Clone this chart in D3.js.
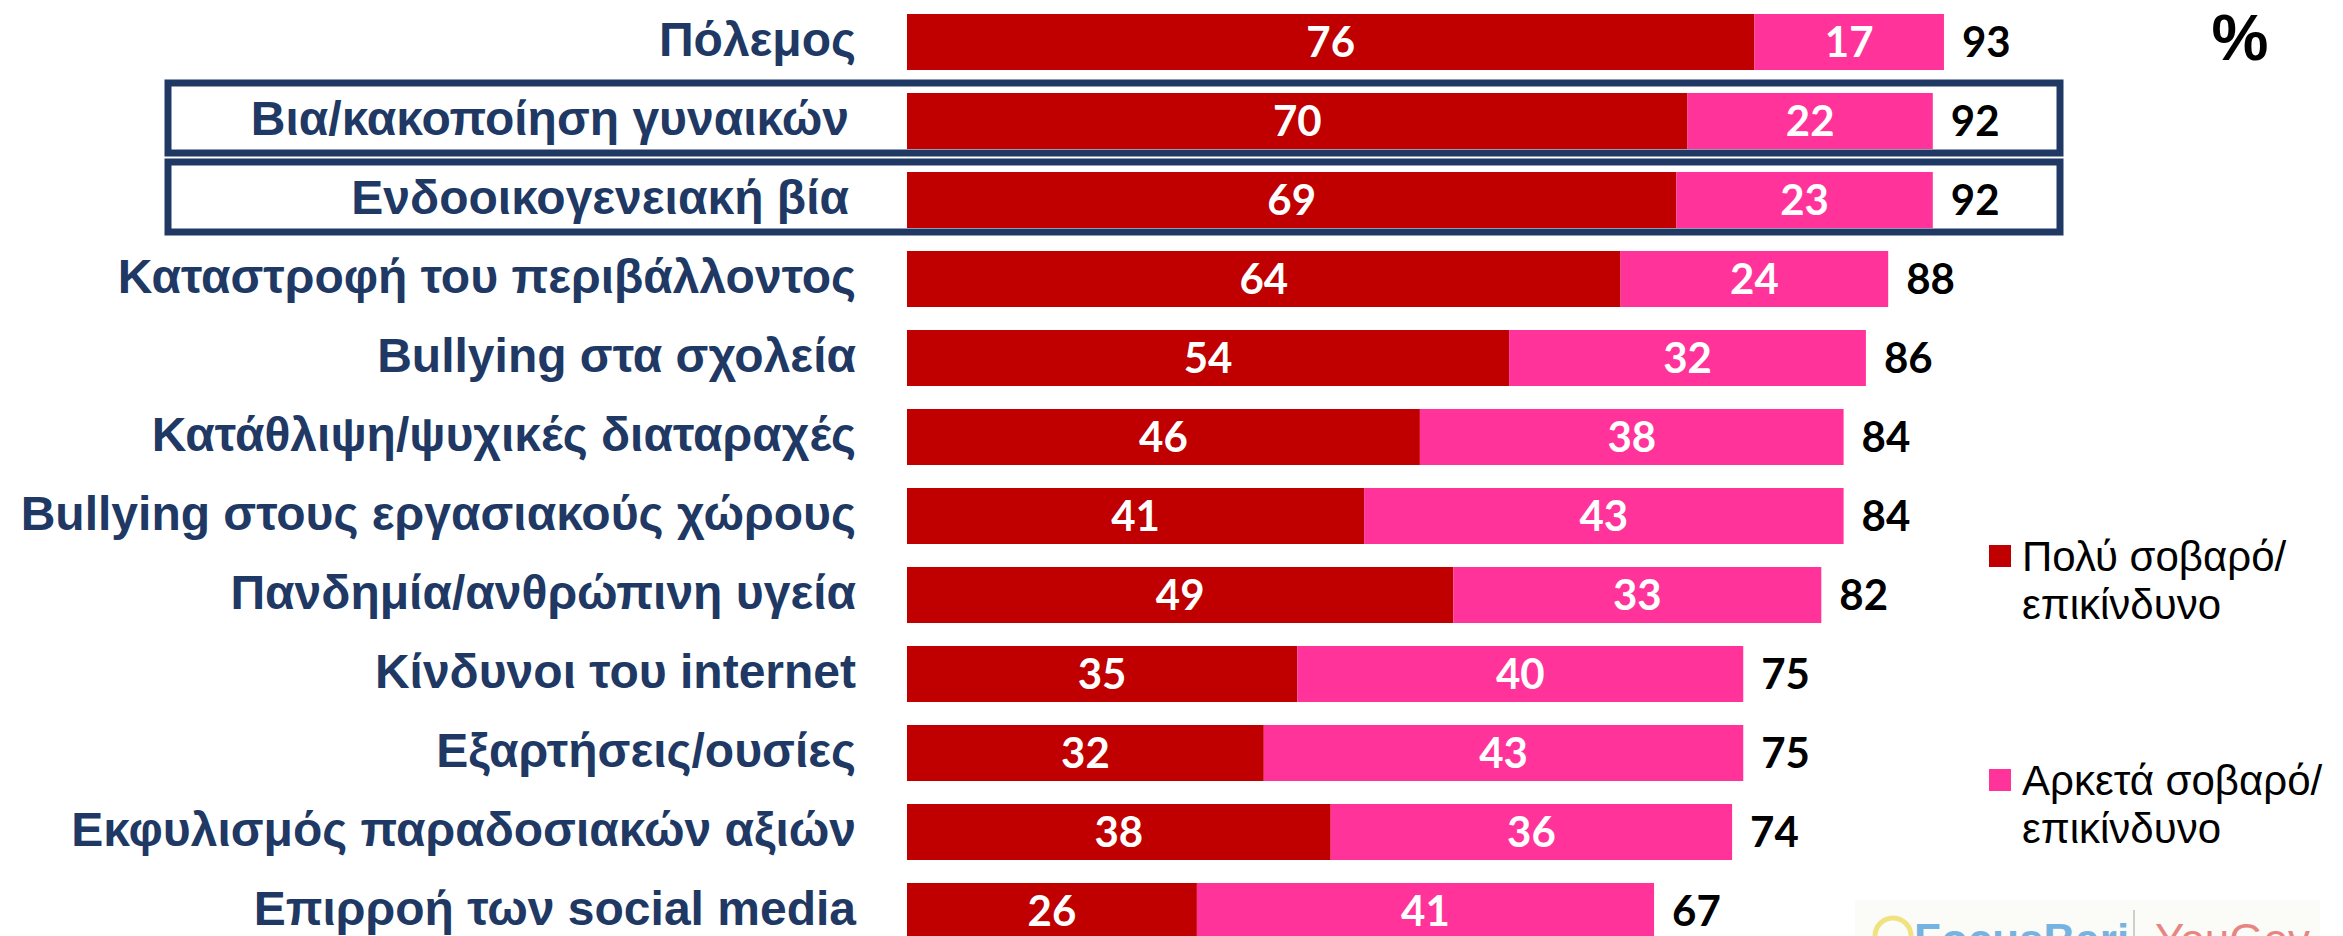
<!DOCTYPE html>
<html>
<head>
<meta charset="utf-8">
<script src="https://cdn.jsdelivr.net/npm/d3@7"></script>
<style>
  html, body { margin: 0; padding: 0; background: #fff; overflow: hidden; }
  svg { display: block; }
</style>
</head>
<body>
<svg id="chart" width="2343" height="936"></svg>
<script>
// data
const categories = [
  "Πόλεμος",
  "Βια/κακοποίηση γυναικών",
  "Ενδοοικογενειακή βία",
  "Καταστροφή του περιβάλλοντος",
  "Bullying στα σχολεία",
  "Κατάθλιψη/ψυχικές διαταραχές",
  "Bullying στους εργασιακούς χώρους",
  "Πανδημία/ανθρώπινη υγεία",
  "Κίνδυνοι του internet",
  "Εξαρτήσεις/ουσίες",
  "Εκφυλισμός παραδοσιακών αξιών",
  "Επιρροή των social media"
];
const verySerious = [76, 70, 69, 64, 54, 46, 41, 49, 35, 32, 38, 26];
const quiteSerious = [17, 22, 23, 24, 32, 38, 43, 33, 40, 43, 36, 41];
const totals = [93, 92, 92, 88, 86, 84, 84, 82, 75, 75, 74, 67];
const highlighted = ["Βια/κακοποίηση γυναικών", "Ενδοοικογενειακή βία"];
const seriesNames = ["Πολύ σοβαρό/\nεπικίνδυνο", "Αρκετά σοβαρό/\nεπικίνδυνο"];

const RED = "#c00000";
const PINK = "#ff3399";
const NAVY = "#203864";
const labelFont = "'Liberation Sans', Arial, sans-serif";
const numFont = "Lato, 'Open Sans', sans-serif";

const svg = d3.select("#chart");

const x = d3.scaleLinear().domain([0, 100]).range([907, 907 + 1115]);
const y = d3.scaleBand()
  .domain(categories)
  .range([2.5, 950.5])
  .paddingInner(0.291)
  .paddingOuter(0.1455);

const rows = categories.map((c, i) => ({
  cat: c,
  a: verySerious[i],
  b: quiteSerious[i],
  total: totals[i]
}));

// highlight boxes
svg.append("g")
  .selectAll("rect")
  .data(highlighted)
  .join("rect")
  .attr("x", 168)
  .attr("y", (d) => y(d) - 10)
  .attr("width", 2060 - 168)
  .attr("height", y.bandwidth() + 14)
  .attr("fill", "none")
  .attr("stroke", NAVY)
  .attr("stroke-width", 7);

// bars
const bars = svg.append("g");
bars.selectAll("rect.a")
  .data(rows)
  .join("rect")
  .attr("class", "a")
  .attr("x", x(0))
  .attr("y", (d) => y(d.cat))
  .attr("width", (d) => x(d.a) - x(0))
  .attr("height", y.bandwidth())
  .attr("fill", RED);

bars.selectAll("rect.b")
  .data(rows)
  .join("rect")
  .attr("class", "b")
  .attr("x", (d) => x(d.a))
  .attr("y", (d) => y(d.cat))
  .attr("width", (d) => x(d.a + d.b) - x(d.a))
  .attr("height", y.bandwidth())
  .attr("fill", PINK);

// values inside segments
const vals = svg.append("g")
  .attr("font-family", numFont)
  .attr("font-weight", "bold")
  .attr("font-size", 42)
  .attr("fill", "#fff")
  .attr("text-anchor", "middle");

vals.selectAll("text.a")
  .data(rows)
  .join("text")
  .attr("class", "a")
  .attr("x", (d) => (x(0) + x(d.a)) / 2)
  .attr("y", (d) => y(d.cat) + y.bandwidth() / 2)
  .attr("dy", "0.36em")
  .text((d) => d.a);

vals.selectAll("text.b")
  .data(rows)
  .join("text")
  .attr("class", "b")
  .attr("x", (d) => (x(d.a) + x(d.a + d.b)) / 2)
  .attr("y", (d) => y(d.cat) + y.bandwidth() / 2)
  .attr("dy", "0.36em")
  .text((d) => d.b);

// totals
svg.append("g")
  .attr("font-family", numFont)
  .attr("font-weight", "bold")
  .attr("font-size", 42)
  .attr("fill", "#000")
  .selectAll("text")
  .data(rows)
  .join("text")
  .attr("x", (d) => x(d.total) + 18)
  .attr("y", (d) => y(d.cat) + y.bandwidth() / 2)
  .attr("dy", "0.36em")
  .text((d) => d.total);

// category labels
svg.append("g")
  .attr("font-family", labelFont)
  .attr("font-weight", "bold")
  .attr("font-size", 48)
  .attr("fill", NAVY)
  .attr("text-anchor", "end")
  .selectAll("text")
  .data(categories)
  .join("text")
  .attr("x", (d) => (highlighted.includes(d) ? 849 : 856))
  .attr("y", (d) => y(d) + y.bandwidth() / 2)
  .attr("dy", "0.29em")
  .text((d) => d);

// percent sign
svg.append("text")
  .attr("x", 2240)
  .attr("y", 60)
  .attr("text-anchor", "middle")
  .attr("font-family", labelFont)
  .attr("font-weight", "bold")
  .attr("font-size", 64)
  .text("%");

// legend
const legend = svg.append("g")
  .attr("font-family", labelFont)
  .attr("font-size", 42)
  .attr("fill", "#000");

const legendY = [545, 769];
[RED, PINK].forEach((col, i) => {
  const g = legend.append("g").attr("transform", `translate(1989,${legendY[i]})`);
  g.append("rect").attr("width", 22).attr("height", 22).attr("fill", col);
  const t = g.append("text").attr("x", 33).attr("y", 26);
  seriesNames[i].split("\n").forEach((line, j) => {
    t.append("tspan").attr("x", 33).attr("dy", j === 0 ? 0 : 48).text(line);
  });
});

// logo strip (cut off at the bottom in the reference)
const logo = svg.append("g").attr("opacity", 0.7);
logo.append("rect")
  .attr("x", 1855).attr("y", 900).attr("width", 465).attr("height", 36)
  .attr("fill", "#fafaf6");
logo.append("line")
  .attr("x1", 2134).attr("x2", 2134).attr("y1", 910).attr("y2", 936)
  .attr("stroke", "#bbb").attr("stroke-width", 2);
logo.append("circle")
  .attr("cx", 1893).attr("cy", 936).attr("r", 18)
  .attr("fill", "none").attr("stroke", "#ecd64a").attr("stroke-width", 5);
logo.append("text")
  .attr("x", 1914).attr("y", 955)
  .attr("font-family", labelFont).attr("font-weight", "bold").attr("font-size", 44)
  .attr("fill", "#3b93d6").text("FocusBari");
logo.append("text")
  .attr("x", 2155).attr("y", 955)
  .attr("font-family", labelFont).attr("font-size", 44)
  .attr("fill", "#e0524d").text("YouGov");
</script>
</body>
</html>
